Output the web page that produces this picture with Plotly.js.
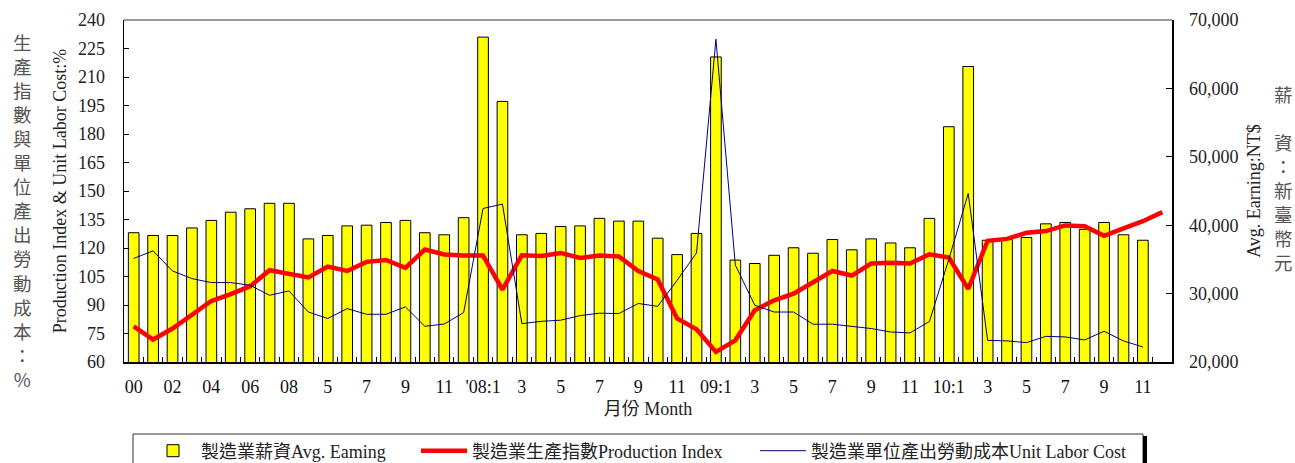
<!DOCTYPE html>
<html><head><meta charset="utf-8">
<script src="https://cdn.plot.ly/plotly-3.0.1.min.js"></script>
<style>html,body{margin:0;padding:0;background:#fff}#chart{width:1295px;height:463px}</style>
</head><body><div id="chart"></div>
<script>
const categories = ["00","01","02","03","04","05","06","07","08","4","5","6","7","8","9","10","11","12",
  "'08:1","2","3","4","5","6","7","8","9","10","11","12",
  "09:1","2","3","4","5","6","7","8","9","10","11","12",
  "10:1","2","3","4","5","6","7","8","9","10","11","12"];
const earnings = [38900,38500,38500,39600,40700,41900,42400,43200,43200,38000,
  38500,39900,40000,40400,40700,38900,38600,41100,67500,58100,
  38600,38800,39800,39900,41000,40600,40600,38100,35700,38800,
  64600,34900,34400,35600,36700,35900,37900,36400,38000,37400,
  36700,41000,54400,63200,37800,37900,38200,40200,40400,39400,
  40400,38600,37800];
const productionIndex = [78.8,71.8,77.6,84.6,92.1,95.7,99.9,108.3,106.6,104.5,
  110.2,107.9,112.7,113.7,109.5,119.2,116.6,116.0,116.0,98.1,
  116.2,115.8,117.4,114.8,116.0,115.5,107.9,103.4,82.9,77.2,
  65.3,71.4,87.2,92.5,96.0,101.8,107.9,105.5,111.8,112.2,
  111.8,116.7,115.0,98.5,123.8,124.8,128.0,128.9,131.9,131.5,
  126.4,130.3,134.1,138.9];
const unitLaborCost = [114.5,118.5,107.9,103.9,101.8,101.8,100.4,95.1,97.4,86.3,
  82.9,88.1,85.1,85.1,89.0,78.8,80.0,86.0,140.8,143.1,
  80.2,81.4,82.0,84.4,85.7,85.5,90.8,89.3,103.0,117.4,
  229.9,111.0,89.9,86.3,86.3,79.9,79.9,78.8,77.6,75.8,
  75.3,81.3,114.0,148.7,71.4,71.1,70.2,73.5,73.2,71.6,
  76.2,71.1,67.9];
const seriesNames = ["製造業薪資Avg. Eaming","製造業生產指數Production Index","製造業單位產出勞動成本Unit Labor Cost"];

const FONT = "'Liberation Serif','Noto Sans CJK TC',serif";
const W = 1295, H = 463;
const xs = categories.map((_, i) => i);
const tickvals = xs.filter(i => i % 2 === 0);
const ticktext = tickvals.map(i => categories[i]);
const boundaries = xs.slice(1).map(i => i - 0.5);

const traces = [
  {type:'bar', name:seriesNames[0], legend:'legend', x:xs.slice(0, earnings.length), y:earnings, yaxis:'y',
   marker:{color:'#FFFF00', line:{color:'#000', width:1}}},
  {type:'scatter', mode:'lines', name:seriesNames[1], legend:'legend2', x:xs.slice(0, productionIndex.length), y:productionIndex, yaxis:'y2',
   line:{color:'#FF0000', width:4.5}},
  {type:'scatter', mode:'lines', name:seriesNames[2], legend:'legend3', x:xs.slice(0, unitLaborCost.length), y:unitLaborCost, yaxis:'y2',
   line:{color:'#000080', width:1}}
];

function legendAt(px) {
  return {xref:'container', yref:'container', x:px / W, xanchor:'left', y:1 - 451 / H, yanchor:'middle',
    borderwidth:0, bgcolor:'rgba(0,0,0,0)', itemwidth:46, orientation:'h',
    font:{family:FONT, size:18, color:'#222'}};
}

const plotL = 124, plotR = 1172, plotT = 20, plotB = 362;
const px2paperX = p => (p - plotL) / (plotR - plotL);
const px2paperY = p => (plotB - p) / (plotB - plotT);

const layout = {
  width:W, height:H,
  margin:{l:plotL, r:W - plotR, t:plotT, b:H - plotB},
  paper_bgcolor:'#fff', plot_bgcolor:'#fff',
  font:{family:FONT, size:18, color:'#000'},
  bargap:0.45,
  showlegend:true,
  legend:legendAt(145),
  legend2:legendAt(416),
  legend3:legendAt(755),
  xaxis:{range:[-0.5, categories.length - 0.5], tickmode:'array', tickvals:tickvals, ticktext:ticktext,
    ticks:'', showline:true, linecolor:'#000', linewidth:1.5, showgrid:false, zeroline:false,
    tickfont:{family:FONT, size:18, color:'#111'}, ticklabelstandoff:8,
    minor:{tickmode:'array', tickvals:boundaries, ticks:'inside', ticklen:5, tickcolor:'#000', tickwidth:1},
    title:{text:'月份 Month', font:{family:FONT, size:18, color:'#222'}, standoff:6}},
  yaxis:{range:[20000,70000], dtick:10000, tickformat:',', side:'right', ticks:'inside', ticklen:6,
    tickcolor:'#000', showline:true, linecolor:'#000', linewidth:1.5, showgrid:false, zeroline:false,
    tickfont:{family:FONT, size:18, color:'#222'}, ticklabelstandoff:12,
    title:{text:'Avg. Earning:NT$', font:{family:FONT, size:18, color:'#222'}, standoff:10}},
  yaxis2:{range:[60,240], dtick:15, overlaying:'y', side:'left', ticks:'inside', ticklen:5,
    tickcolor:'#000', showline:true, linecolor:'#000', linewidth:1.5, showgrid:false, zeroline:false,
    tickfont:{family:FONT, size:18, color:'#222'}, ticklabelstandoff:14,
    title:{text:'Production Index &amp; Unit Labor Cost:%', font:{family:FONT, size:18, color:'#222'}, standoff:6}},
  shapes:[
    {type:'line', xref:'paper', yref:'paper', x0:0, x1:1, y0:1, y1:1, line:{color:'#777', width:1.5}},
    {type:'rect', xref:'paper', yref:'paper', x0:px2paperX(133), x1:px2paperX(1143), y0:px2paperY(434), y1:px2paperY(475),
     line:{color:'#333', width:1}, fillcolor:'rgba(0,0,0,0)'},
    {type:'line', xref:'paper', yref:'paper', x0:px2paperX(1145), x1:px2paperX(1145), y0:px2paperY(436), y1:px2paperY(475),
     line:{color:'#000', width:4}}
  ],
  annotations:[
    {xref:'paper', yref:'paper', x:px2paperX(22), y:px2paperY(210), xanchor:'center', yanchor:'middle', showarrow:false,
     text:'生<br>產<br>指<br>數<br>與<br>單<br>位<br>產<br>出<br>勞<br>動<br>成<br>本<br>：<br>%',
     font:{family:"'Noto Sans CJK TC',sans-serif", size:18.5, color:'#555'}},
    {xref:'paper', yref:'paper', x:px2paperX(1283), y:px2paperY(178), xanchor:'center', yanchor:'middle', showarrow:false,
     text:'薪<br> <br>資<br>：<br>新<br>臺<br>幣<br>元',
     font:{family:"'Noto Sans CJK TC',sans-serif", size:18.5, color:'#555'}}
  ]
};
Plotly.newPlot('chart', traces, layout, {displayModeBar:false, staticPlot:true});
</script></body></html>
